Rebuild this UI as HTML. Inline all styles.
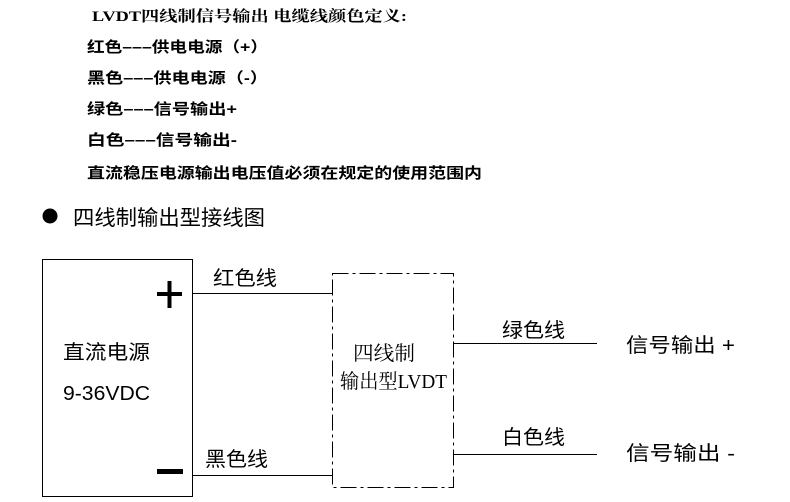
<!DOCTYPE html>
<html><head><meta charset="utf-8"><style>
html,body{margin:0;padding:0;background:#fff;}
svg{display:block;}
text{font-family:"Liberation Sans","Noto Sans CJK SC",sans-serif;fill:#000;}
.b{font-weight:bold;font-size:15px;}
.l{font-size:20px;}
</style></head><body>
<svg width="790" height="502" viewBox="0 0 790 502" xmlns="http://www.w3.org/2000/svg">
<text class="b" x="92" y="21" textLength="315" lengthAdjust="spacingAndGlyphs" style="font-family:'Liberation Serif','Noto Serif CJK SC',serif">LVDT四线制信号输出 电缆线颜色定义:</text>
<text class="b" x="87" y="52" textLength="181" lengthAdjust="spacingAndGlyphs">红色–––供电电源（+）</text>
<text class="b" x="87" y="83" textLength="181" lengthAdjust="spacingAndGlyphs">黑色–––供电电源（-）</text>
<text class="b" x="87" y="114" textLength="150" lengthAdjust="spacingAndGlyphs">绿色–––信号输出+</text>
<text class="b" x="87" y="145" textLength="150" lengthAdjust="spacingAndGlyphs">白色–––信号输出-</text>
<text class="b" x="87" y="178" textLength="395" lengthAdjust="spacingAndGlyphs">直流稳压电源输出电压值必须在规定的使用范围内</text>
<circle cx="50" cy="216" r="7.5" fill="#000"/>
<text x="73" y="225" font-size="21" textLength="192" lengthAdjust="spacingAndGlyphs">四线制输出型接线图</text>
<g stroke="#000" fill="none">
<rect x="42.5" y="259.5" width="150" height="237" stroke-width="1"/>
<line x1="192" y1="293.5" x2="332" y2="293.5" stroke-width="1"/>
<line x1="192" y1="475.5" x2="332" y2="475.5" stroke-width="1"/>
<rect x="332.5" y="273.5" width="121" height="214" stroke-width="1" stroke-dasharray="16,4,3,4"/>
<line x1="453" y1="343.5" x2="597" y2="343.5" stroke-width="1"/>
<line x1="453" y1="454.5" x2="597" y2="454.5" stroke-width="1"/>
</g>
<rect x="157" y="292" width="25" height="4" fill="#000"/>
<rect x="167.5" y="281" width="4" height="27" fill="#000"/>
<rect x="157" y="469" width="26" height="5" fill="#000"/>
<text class="l" x="213" y="285" textLength="64" lengthAdjust="spacingAndGlyphs">红色线</text>
<text class="l" x="205" y="466" textLength="63" lengthAdjust="spacingAndGlyphs">黑色线</text>
<text class="l" x="63" y="359" textLength="87" lengthAdjust="spacingAndGlyphs">直流电源</text>
<text class="l" x="63" y="400" textLength="87" lengthAdjust="spacingAndGlyphs">9-36VDC</text>
<text class="l" x="353" y="360" textLength="62" lengthAdjust="spacingAndGlyphs" style="font-family:'Liberation Serif','Noto Serif CJK SC',serif">四线制</text>
<text class="l" x="340" y="388" textLength="107" lengthAdjust="spacingAndGlyphs" style="font-family:'Liberation Serif','Noto Serif CJK SC',serif">输出型LVDT</text>
<text class="l" x="502" y="337" textLength="63" lengthAdjust="spacingAndGlyphs">绿色线</text>
<text class="l" x="502" y="444" textLength="63" lengthAdjust="spacingAndGlyphs">白色线</text>
<text class="l" x="626" y="352" textLength="109" lengthAdjust="spacingAndGlyphs">信号输出 +</text>
<text class="l" x="626" y="460" textLength="109" lengthAdjust="spacingAndGlyphs">信号输出 -</text>
</svg>
</body></html>
